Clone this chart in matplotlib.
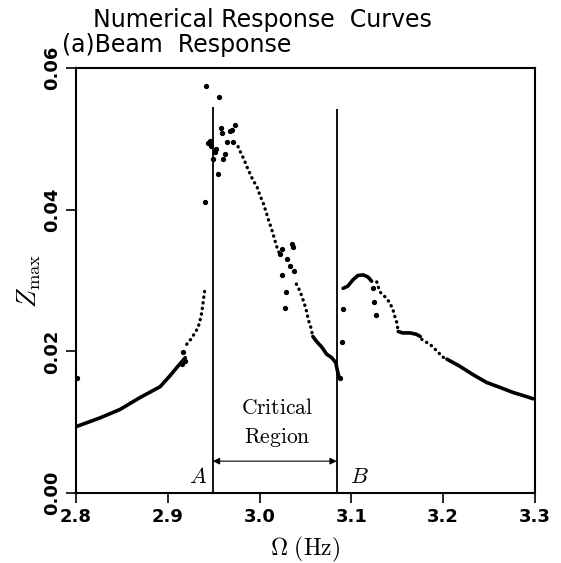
import matplotlib.pyplot as plt
import numpy as np

plt.rcParams['mathtext.fontset'] = 'cm'

# frequency (Hz) / amplitude readings, grouped by how the trace looks
# solid (densely sampled) pieces of the response
solid_w = [
    [2.8007, 2.826, 2.848, 2.870, 2.8915, 2.902, 2.911, 2.919],
    [3.058, 3.062, 3.0677, 3.073, 3.0786, 3.083, 3.084, 3.0865],
    [3.091, 3.096, 3.1017, 3.107, 3.1126, 3.118, 3.122],
    [3.151, 3.156, 3.164, 3.171, 3.175],
    [3.204, 3.218, 3.2326, 3.2474, 3.262, 3.276, 3.291, 3.298],
]
solid_z = [
    [0.0094, 0.0106, 0.0118, 0.0135, 0.0150, 0.0165, 0.0179, 0.0191],
    [0.0221, 0.0214, 0.0206, 0.0196, 0.0191, 0.0184, 0.0177, 0.0163],
    [0.0289, 0.0292, 0.0301, 0.0307, 0.0308, 0.0305, 0.0299],
    [0.0228, 0.0226, 0.0226, 0.0224, 0.0221],
    [0.0189, 0.0179, 0.0167, 0.0156, 0.0149, 0.0142, 0.0136, 0.0133],
]

# dotted pieces (sparser sampling)
dotted_w = [
    [2.9206, 2.925, 2.930, 2.933, 2.935, 2.937, 2.9385, 2.9405],
    [2.9765, 2.980, 2.983, 2.986, 2.9895, 2.993, 2.997, 3.0004, 3.004,
     3.007, 3.010, 3.013, 3.0168, 3.0186, 3.021],
    [3.040, 3.044, 3.047, 3.0505, 3.053, 3.0557, 3.058],
    [3.1276, 3.131, 3.1366, 3.141, 3.145, 3.1475, 3.1494, 3.151],
    [3.1766, 3.180, 3.1856, 3.191, 3.194, 3.198, 3.204],
]
dotted_z = [
    [0.0210, 0.0217, 0.0227, 0.0234, 0.0243, 0.0255, 0.0270, 0.0289],
    [0.0489, 0.0479, 0.0471, 0.0461, 0.0451, 0.0441, 0.0433, 0.0420, 0.0409,
     0.0397, 0.0384, 0.0373, 0.0356, 0.0348, 0.0340],
    [0.0295, 0.0285, 0.0274, 0.0260, 0.0245, 0.0234, 0.0221],
    [0.0298, 0.0284, 0.0277, 0.0270, 0.0260, 0.0248, 0.0241, 0.0228],
    [0.0217, 0.0214, 0.0210, 0.0203, 0.0200, 0.0193, 0.0189],
]

# scattered points
scatter_w = [2.801, 2.915, 2.919, 2.9166, 2.9405, 2.9416, 2.956,
             2.944, 2.946, 2.947, 2.949, 2.951, 2.953, 2.955, 2.958, 2.959,
             2.960, 2.962, 2.965, 2.968, 2.970, 2.973, 2.971,
             3.022, 3.024, 3.035, 3.036, 3.030, 3.033, 3.0375, 3.024, 3.029, 3.0277,
             3.0894, 3.0905, 3.0875, 3.123, 3.1246, 3.1268]
scatter_z = [0.0162, 0.0182, 0.0186, 0.0199, 0.0411, 0.0574, 0.0559,
             0.0494, 0.0497, 0.0490, 0.0472, 0.0482, 0.0486, 0.0451, 0.0516, 0.0508,
             0.0472, 0.0478, 0.0496, 0.0511, 0.0513, 0.0519, 0.0496,
             0.0337, 0.0345, 0.0352, 0.0348, 0.0330, 0.0321, 0.0313, 0.0308, 0.0284, 0.0261,
             0.0213, 0.0260, 0.0163, 0.0289, 0.0270, 0.0252]

# critical region boundaries
w_A, z_A = 2.949, 0.0545
w_B, z_B = 3.084, 0.0542
arrow_z = 0.0045

fig = plt.figure(figsize=(5.61, 5.63), dpi=100)
ax = fig.add_axes([0.1355, 0.1243, 0.8182, 0.7549])

for w, z in zip(solid_w, solid_z):
    ax.plot(w, z, color='black', lw=2.6, solid_capstyle='round')
for w, z in zip(dotted_w, dotted_z):
    ax.plot(w, z, color='black', lw=2.4, ls=(0, (0.1, 1.6)), dash_capstyle='round')
ax.plot(scatter_w, scatter_z, 'o', color='black', ms=2.8)

ax.vlines([w_A], 0, z_A, color='black', lw=1.3)
ax.vlines([w_B], 0, z_B, color='black', lw=1.3)
ax.annotate('', xy=(w_A, arrow_z), xytext=(w_B, arrow_z),
            arrowprops=dict(arrowstyle='<|-|>', color='black', lw=0.8,
                            mutation_scale=10, shrinkA=0, shrinkB=0))

ax.text(3.019, 0.0120, r'$\mathrm{Critical}$', ha='center', va='center', fontsize=15.5)
ax.text(3.019, 0.0079, r'$\mathrm{Region}$', ha='center', va='center', fontsize=15.5)
ax.text(2.933, 0.0022, r'$A$', ha='center', va='center', fontsize=16)
ax.text(3.109, 0.0022, r'$B$', ha='center', va='center', fontsize=16)

ax.set_xlim(2.8, 3.3)
ax.set_ylim(0, 0.06)
ax.set_xticks([2.8, 2.9, 3.0, 3.1, 3.2, 3.3])
ax.set_xticklabels(['2.8', '2.9', '3.0', '3.1', '3.2', '3.3'], fontweight='bold', fontsize=13)
ax.set_yticks([0.0, 0.02, 0.04, 0.06])
ax.set_yticklabels(['0.00', '0.02', '0.04', '0.06'], fontweight='bold', fontsize=13,
                   rotation=90, va='center')
ax.tick_params(direction='out', length=7, width=1.2, pad=4)
for s in ax.spines.values():
    s.set_linewidth(1.5)

ax.set_xlabel(r'$\Omega\ \mathrm{(Hz)}$', fontsize=17)
ax.xaxis.set_label_coords(0.499, -0.098)
ax.set_ylabel(r'$Z_{\mathrm{max}}$', fontsize=19)
ax.yaxis.set_label_coords(-0.072, 0.5)

fig.text(93 / 561, 1 - 20 / 563, 'Numerical Response  Curves', fontsize=17, va='center', ha='left')
fig.text(62 / 561, 1 - 45 / 563, '(a)Beam  Response', fontsize=17, va='center', ha='left')

fig.savefig('out.png', dpi=100)
